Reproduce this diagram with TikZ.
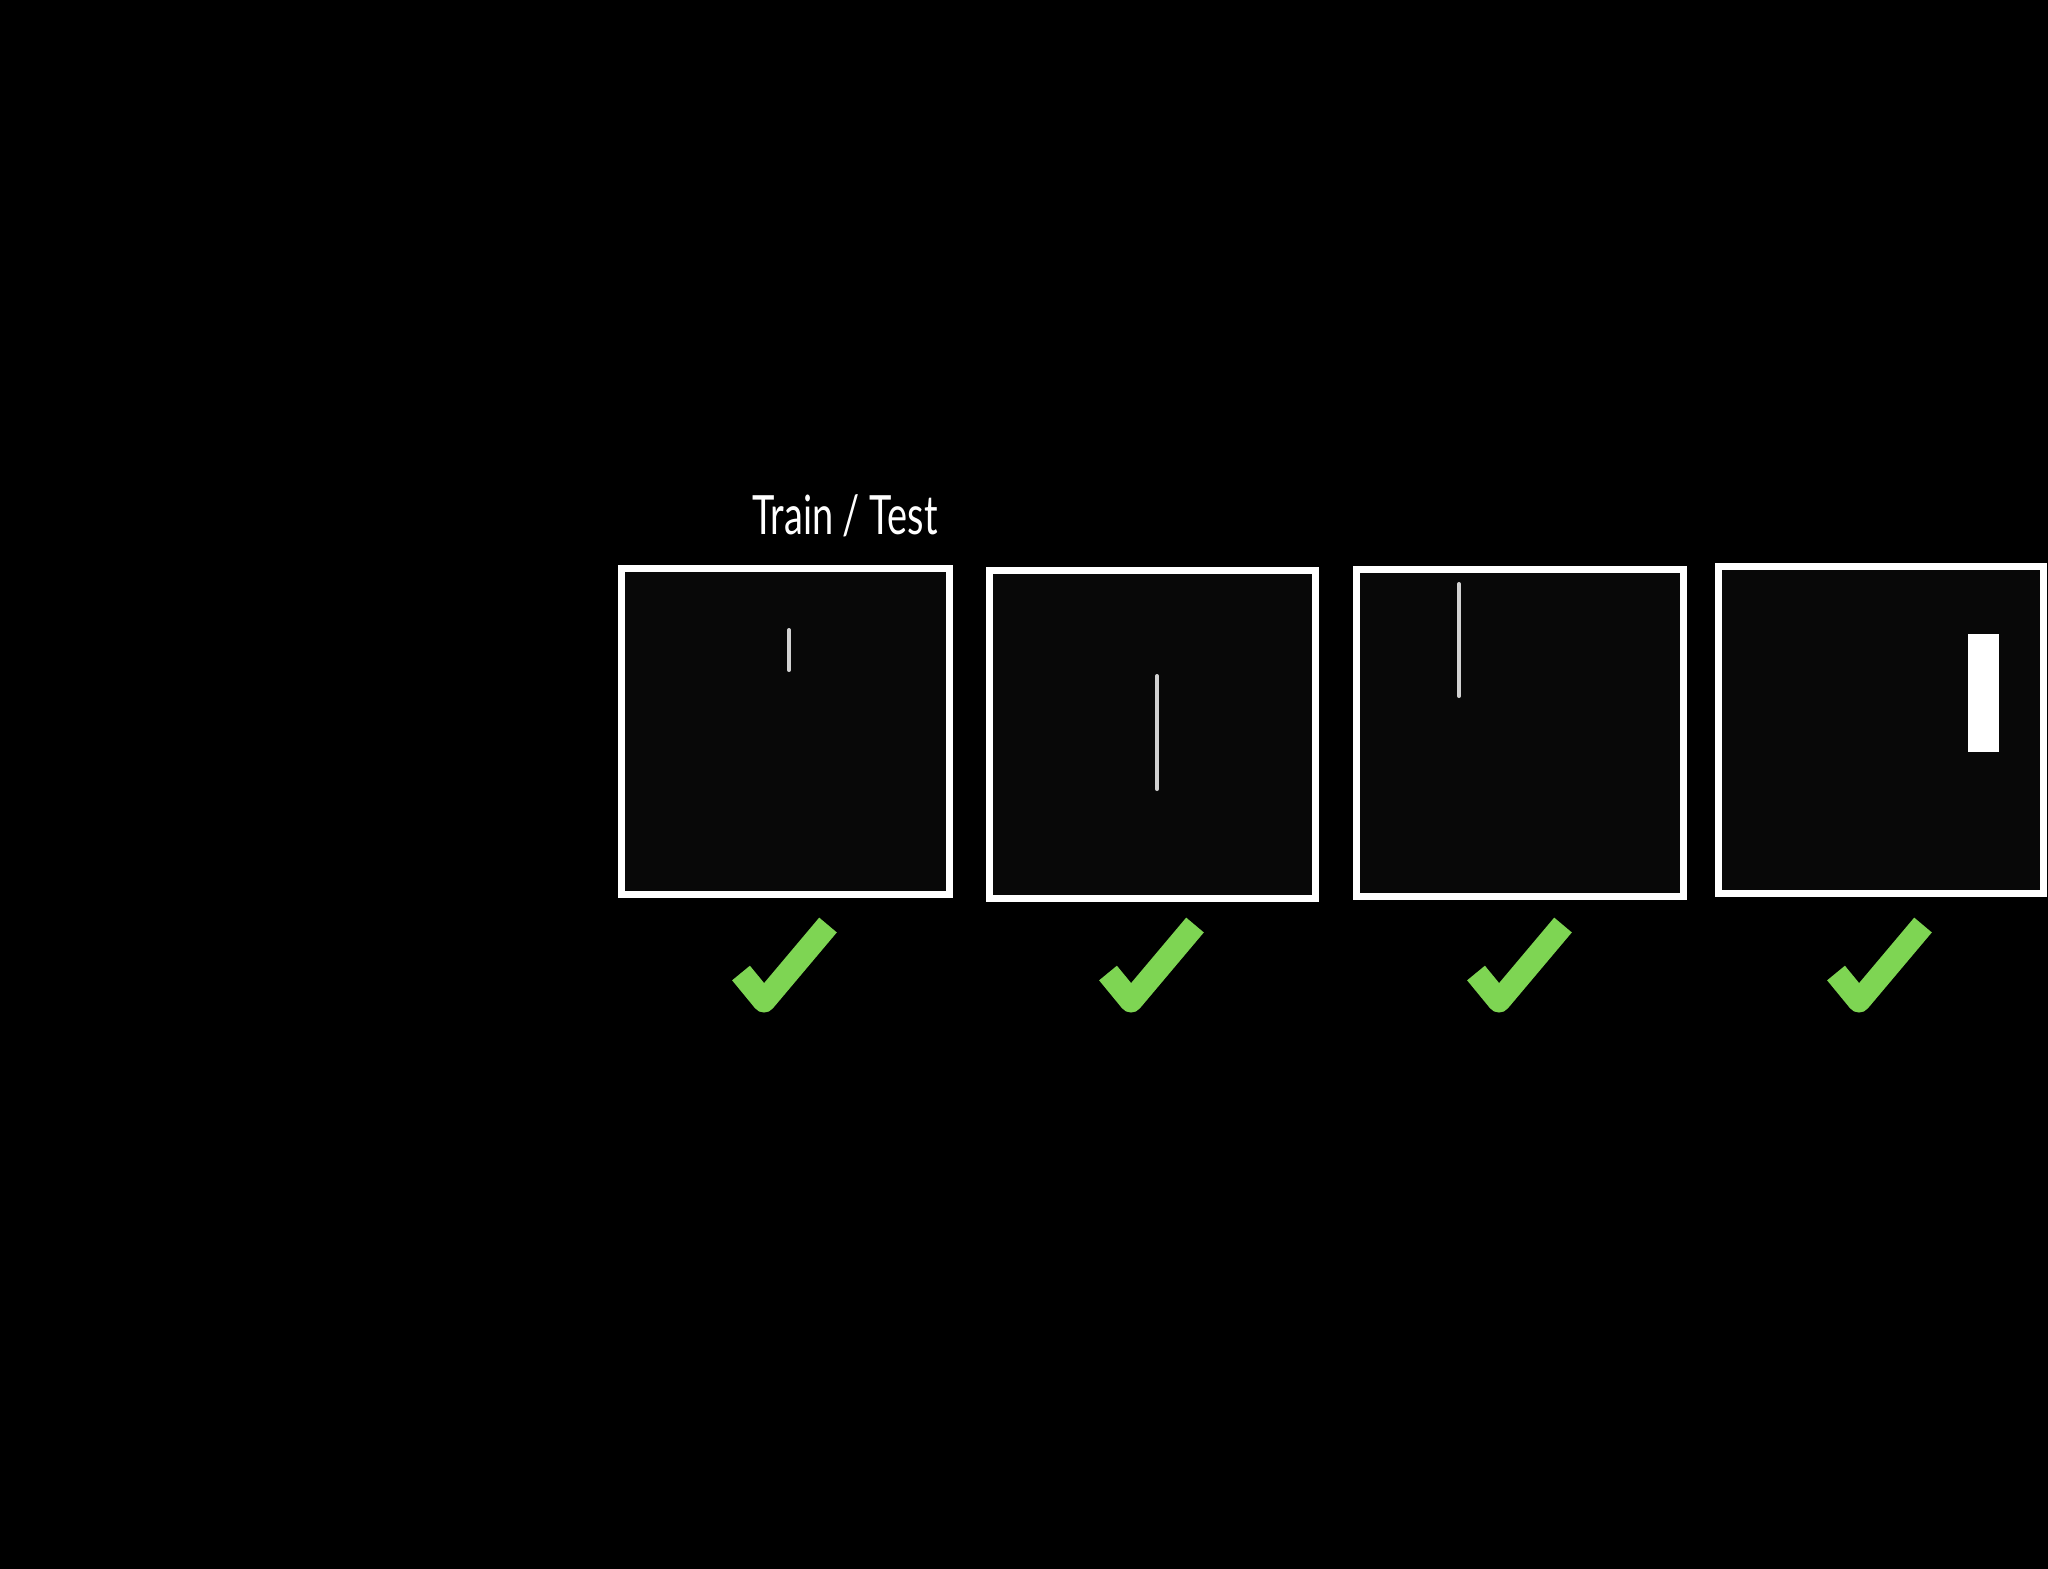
\documentclass[tikz,border=0pt]{standalone}
\usepackage{fontspec}
\newfontfamily\titlefont[FakeStretch=0.70]{Lato}
\begin{document}
\begin{tikzpicture}[x=0.01cm,y=-0.01cm,
  frame/.style={draw=white,line width=0.07cm,fill=black!97,inner sep=0pt,minimum width=3.26cm,minimum height=3.26cm},
  bar/.style={draw=black!18,line width=0.04cm,line cap=round},
  tick/.style={draw={rgb,255:red,126;green,213;blue,83},line width=0.23cm,line cap=butt,line join=round}]
\useasboundingbox (0,0) rectangle (2048,1568);
\fill[black] (-10,-10) rectangle (2058,1578);
\node[frame,minimum width=3.27cm,minimum height=3.25cm] (b1) at (785.5,731.5) {};
\node[frame,minimum width=3.25cm,minimum height=3.27cm] (b2) at (1152.5,734.5) {};
\node[frame,minimum width=3.26cm,minimum height=3.26cm] (b3) at (1520,733) {};
\node[frame,minimum width=3.24cm,minimum height=3.26cm] (b4) at (1881,730) {};
\node[text=white,font=\titlefont\fontsize{15.4}{18}\selectfont,anchor=base] (title) at (845,534) {Train / Test};
\draw[bar] (789,630) -- (789,670);
\draw[bar] (1157,676) -- (1157,789);
\draw[bar] (1459,584) -- (1459,696);
\fill[white] (1968,634) rectangle (1999,752);
\foreach \n/\cx in {b1/763,b2/1130,b3/1498,b4/1858}{
  \draw[tick] (\cx-22,973) -- (\cx+1,1001) -- (\cx+65,925);
}
\end{tikzpicture}
\end{document}
